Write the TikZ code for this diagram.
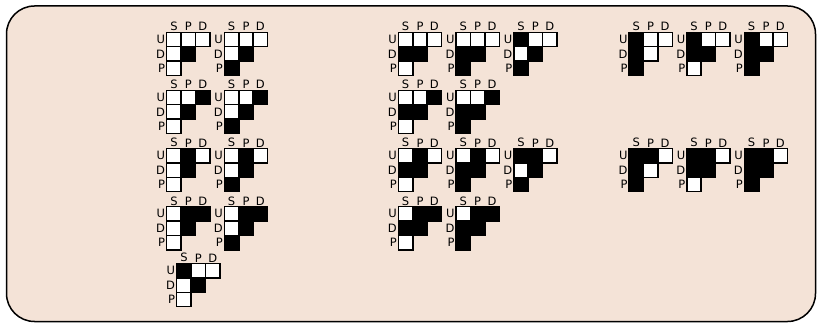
\documentclass[tikz,border=0pt]{standalone}
\usepackage{fontspec}
\setmainfont{DejaVu Sans}
\definecolor{bgpanel}{HTML}{F4E3D7}
\tikzset{
  cell0/.style={fill=white,draw=black,line width=1.5pt},
  cell1/.style={fill=black,draw=black,line width=1.5pt},
  collab/.style={anchor=south,inner sep=0.6pt,font=\fontsize{11.5}{12}\selectfont},
  rowlab/.style={anchor=east,inner sep=0.8pt,font=\fontsize{11.5}{12}\selectfont},
  panel/.style={fill=bgpanel,draw=black,line width=1.5pt,rounded corners=28pt}
}
\newcommand{\cw}{14.4}
% #1 name, #2 x, #3 y, then bits US UP UD DS DP PS
\newcommand{\gly}[9]{%
  \begin{scope}[shift={(#2,#3)}]
    \draw[cell#4] (0,0) rectangle (\cw,\cw);
    \draw[cell#5] (\cw,0) rectangle (2*\cw,\cw);
    \draw[cell#6] (2*\cw,0) rectangle (3*\cw,\cw);
    \draw[cell#7] (0,\cw) rectangle (\cw,2*\cw);
    \draw[cell#8] (\cw,\cw) rectangle (2*\cw,2*\cw);
    \draw[cell#9] (0,2*\cw) rectangle (\cw,3*\cw);
    \node[collab] (#1s) at (0.5*\cw,-0.6) {S};
    \node[collab] (#1p) at (1.5*\cw,-0.6) {P};
    \node[collab] (#1d) at (2.5*\cw,-0.6) {D};
    \node[rowlab] (#1u) at (-0.6,0.5*\cw) {U};
    \node[rowlab] (#1dd) at (-0.6,1.5*\cw) {D};
    \node[rowlab] (#1pp) at (-0.6,2.5*\cw) {P};
  \end{scope}}
\begin{document}
\begin{tikzpicture}[x=1pt,y=-1pt]
\useasboundingbox (0,0) rectangle (822,323);
\draw[panel] (6.5,6) rectangle (815.5,321.5);
% group 1
\gly{a1}{166.7}{32.3}000010
\gly{a2}{224.4}{32.3}000011
\gly{a3}{166.7}{90.3}001010
\gly{a4}{224.4}{90.3}001011
\gly{a5}{166.7}{148.5}010010
\gly{a6}{224.4}{148.5}010011
\gly{a7}{166.7}{206.6}011010
\gly{a8}{224.4}{206.6}011011
\gly{a9}{176.7}{263.5}100010
% group 2
\gly{b1}{398.4}{32.3}000110
\gly{b2}{456.1}{32.3}000111
\gly{b3}{513.8}{32.3}100011
\gly{b4}{398.4}{90.3}001110
\gly{b5}{456.1}{90.3}001111
\gly{b6}{398.4}{148.5}010110
\gly{b7}{456.1}{148.5}010111
\gly{b8}{513.8}{148.5}110011
\gly{b9}{398.4}{206.6}011110
\gly{b10}{456.1}{206.6}011111
% group 3
\gly{c1}{629.1}{32.3}100101
\gly{c2}{686.8}{32.3}100110
\gly{c3}{744.4}{32.3}100111
\gly{c4}{629.1}{148.5}110101
\gly{c5}{686.8}{148.5}110110
\gly{c6}{744.4}{148.5}110111
\end{tikzpicture}
\end{document}
